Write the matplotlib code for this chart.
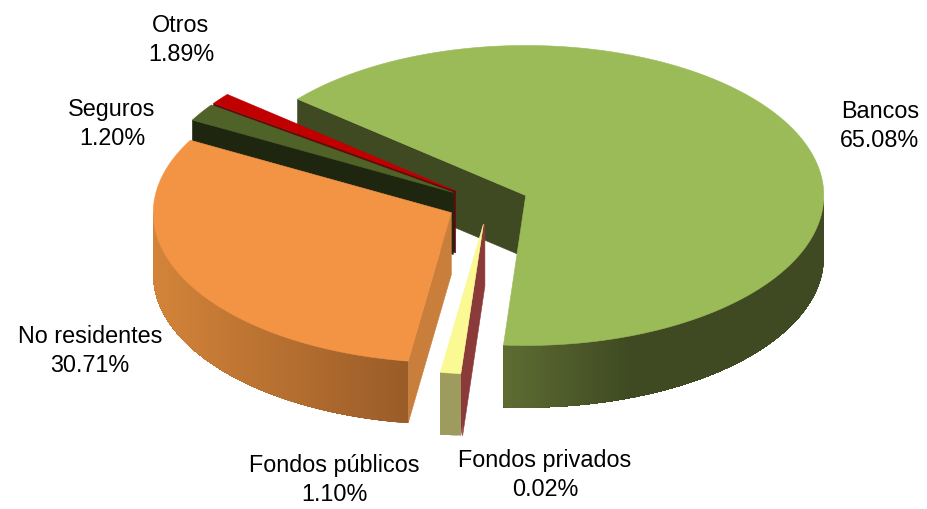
import numpy as np
from matplotlib import pyplot as plt
from matplotlib.colors import to_rgb
from matplotlib.patches import Polygon

# Data, clockwise from the back left edge of Bancos
categories = ['Bancos', 'Fondos privados', 'Fondos públicos', 'No residentes', 'Seguros', 'Otros']
# the picture draws the Seguros slice wider than the Otros slice, against its own labels
shares = [65.08, 0.02, 1.10, 30.71, 1.89, 1.20]
share_labels = ['65.08%', '0.02%', '1.10%', '30.71%', '1.20%', '1.89%']

# Colours per slice
top_colors = ['#9BBB59', '#8B3A3A', '#FAF994', '#F39445', '#4F6228', '#C00000']
cut_colors = ['#3F4A22', '#8B3A3A', '#8B3A3A', '#C97E3C', '#1E2610', '#5E0B0B']
wall_left = ['#5E6C33', '#8B3A3A', '#9D9B5E', '#D38439', '#1E2610', '#5E0B0B']
wall_right = ['#3F4A22', '#8B3A3A', '#9D9B5E', '#9A5C28', '#1E2610', '#5E0B0B']
wall_x_range = [(504, 630), (0, 1), (0, 1), (152, 407), (0, 1), (0, 1)]

# Drawing order, back to front
draw_order = [0, 5, 4, 3, 2, 1]

label_pos = [(880, 126), (545, 475), (334, 480), (90, 351), (112, 124), (181, 40)]

# Projection of the pie, in pixels
start_angle = -50.0
a, b = 298.0, 150.0
depth = 62.0
cx, cy = 488.0, 203.5
explode = 0.1375


def rim(apex, theta):
    t = np.radians(theta)
    return np.column_stack([apex[0] + a * np.sin(t), apex[1] - b * np.cos(t)])


def add_poly(ax, pts, color, lw=0.4):
    ax.add_patch(Polygon(pts, closed=True, facecolor=color,
                         edgecolor=color if lw else 'none', lw=lw))


def draw_slice(ax, i, t0, t1):
    mid = np.radians((t0 + t1) / 2)
    apex = (cx + explode * a * np.sin(mid), cy - explode * b * np.cos(mid))

    # cut face on the leading edge
    p0 = rim(apex, np.array([t0]))[0]
    add_poly(ax, [apex, p0, (p0[0], p0[1] + depth), (apex[0], apex[1] + depth)], cut_colors[i])

    # outer wall, only the part facing the viewer
    w0, w1 = max(t0, 90), min(t1, 270)
    if w1 > w0:
        edges = np.linspace(w0, w1, max(int((w1 - w0) * 2), 2))
        pts = rim(apex, edges)
        c_l, c_r = np.array(to_rgb(wall_left[i])), np.array(to_rgb(wall_right[i]))
        x0, x1 = wall_x_range[i]
        for k in range(len(edges) - 1):
            x = (pts[k, 0] + pts[k + 1, 0]) / 2
            f = np.clip((x - x0) / (x1 - x0), 0, 1)
            # each strip runs on to the far end so no seams show between strips
            strip = pts[k:]
            outline = np.vstack([strip, strip[::-1] + [0, depth]])
            add_poly(ax, outline, tuple(c_l + (c_r - c_l) * f), lw=0)

    # top face
    arc = rim(apex, np.linspace(t0, t1, max(int((t1 - t0) * 2), 2)))
    add_poly(ax, np.vstack([[apex], arc]), top_colors[i])


plt.rcParams['font.family'] = ['Liberation Sans', 'DejaVu Sans']

fig = plt.figure(figsize=(9.28, 5.09), dpi=100)
ax = fig.add_axes([0, 0, 1, 1])
ax.set_xlim(0, 928)
ax.set_ylim(509, 0)
ax.axis('off')

sweeps = np.array(shares) / sum(shares) * 360
ends = start_angle + np.cumsum(sweeps)
starts = ends - sweeps

for i in draw_order:
    draw_slice(ax, i, starts[i], ends[i])

for name, value, (x, y) in zip(categories, share_labels, label_pos):
    ax.text(x, y, f'{name}\n{value}', ha='center', va='center',
            fontsize=16.8, color='#000000', linespacing=1.33)

fig.savefig('out.png', dpi=100)
